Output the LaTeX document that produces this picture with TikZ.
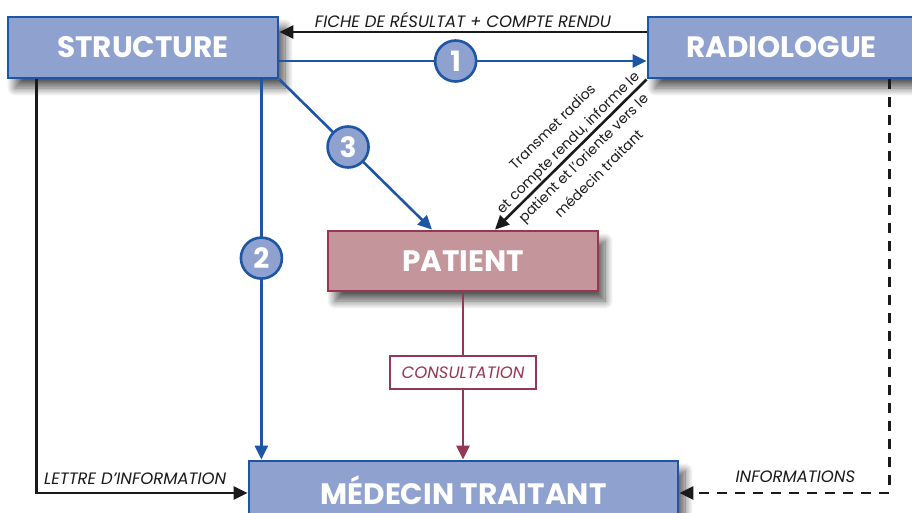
\documentclass[tikz,border=0pt]{standalone}
\usepackage{fontspec}
\setmainfont{Poppins}
\usepackage{xcolor}
\usepackage{tikz}
\usetikzlibrary{arrows.meta, calc, shadows.blur}
\definecolor{boxblue}{RGB}{143,161,206}
\definecolor{lineblue}{RGB}{28,86,164}
\definecolor{boxrose}{RGB}{196,149,155}
\definecolor{linerose}{RGB}{150,56,84}
\definecolor{darkink}{RGB}{26,26,26}

\begin{document}
\begin{tikzpicture}[x=1pt, y=-1pt,
  bigbox/.style={draw=lineblue, line width=2.8pt, fill=boxblue, text=white,
                 font=\fontsize{29.5}{32}\selectfont\bfseries,
                 blur shadow={shadow xshift=7pt, shadow yshift=-10pt, shadow blur radius=8pt,
                              shadow blur steps=14, shadow opacity=65},
                 inner sep=0pt},
  rosebox/.style={bigbox, draw=linerose, fill=boxrose},
  numcircle/.style={circle, draw=lineblue, line width=2.6pt, fill=boxblue, text=white,
                    minimum size=41pt, inner sep=0pt, font=\fontsize{28}{28}\selectfont\bfseries},
  bluearrow/.style={draw=lineblue, line width=2.6pt, -{Triangle[length=14pt, width=13pt]}},
  blackarrow/.style={draw=darkink, line width=2.6pt, -{Triangle[length=14pt, width=13pt]}},
  roselink/.style={draw=linerose, line width=2.6pt},
  lbl/.style={text=darkink, font=\fontsize{16.5}{19}\selectfont\itshape}]
  \useasboundingbox (0,0) rectangle (912,512);

  % boxes
  \node[bigbox, minimum width=270pt, minimum height=61pt] (struct) at (143,47.5) {STRUCTURE};
  \node[bigbox, minimum width=267pt, minimum height=61pt] (radio) at (781.5,47.5) {RADIOLOGUE};
  \node[rosebox, minimum width=270pt, minimum height=60pt] (patient) at (463,261) {PATIENT};
  \node[bigbox, minimum width=429pt, minimum height=64pt] (medecin) at (463.5,493) {\raisebox{5pt}{MÉDECIN TRAITANT}};
  \node[draw=linerose, line width=2pt, fill=white, text=linerose, minimum width=146pt,
        minimum height=33pt, inner sep=0pt, font=\fontsize{16.5}{19}\selectfont\itshape] (consult) at (463,372.5) {CONSULTATION};

  % structure <-> radiologue
  \draw[blackarrow] ([yshift=15.5pt]radio.west) -- ([yshift=15.5pt]struct.east)
    node[lbl, midway, above=0pt] {FICHE DE RÉSULTAT + COMPTE RENDU};
  \draw[bluearrow] ([yshift=-13.5pt]struct.east) -- ([yshift=-13.5pt]radio.west)
    node[numcircle, pos=0.48] (one) {1};

  % structure -> patient, medecin
  \draw[bluearrow] (struct.south east) -- ([xshift=-31pt]patient.north)
    node[numcircle, pos=0.45] (three) {3};
  \draw[bluearrow] ([xshift=-18pt]struct.south east) -- ([xshift=-18pt]struct.south east |- medecin.north)
    node[numcircle, pos=0.47] (two) {2};
  \draw[blackarrow] ([xshift=30pt]struct.south west) |- (medecin.west)
    node[lbl, pos=0.5, anchor=south west, xshift=3pt, yshift=4pt] {LETTRE D’INFORMATION};

  % radiologue -> patient, medecin
  \draw[blackarrow] (radio.south west) -- ([xshift=32pt]patient.north)
    node[pos=0.47, sloped, align=center, text=darkink, font=\fontsize{14}{22}\selectfont]
    {Transmet radios\\et compte rendu, informe le\\patient et l’oriente vers le\\médecin traitant};
  \draw[blackarrow, dashed, dash pattern=on 10pt off 8pt] ([xshift=-27pt]radio.south east) |- (medecin.east)
    node[lbl, pos=0.75, above=6pt, xshift=11pt] {INFORMATIONS};

  % patient -> medecin
  \draw[roselink] (patient.south) -- (consult.north);
  \draw[roselink, -{Triangle[length=14pt, width=13pt]}] (consult.south) -- (consult.south |- medecin.north);
\end{tikzpicture}
\end{document}
